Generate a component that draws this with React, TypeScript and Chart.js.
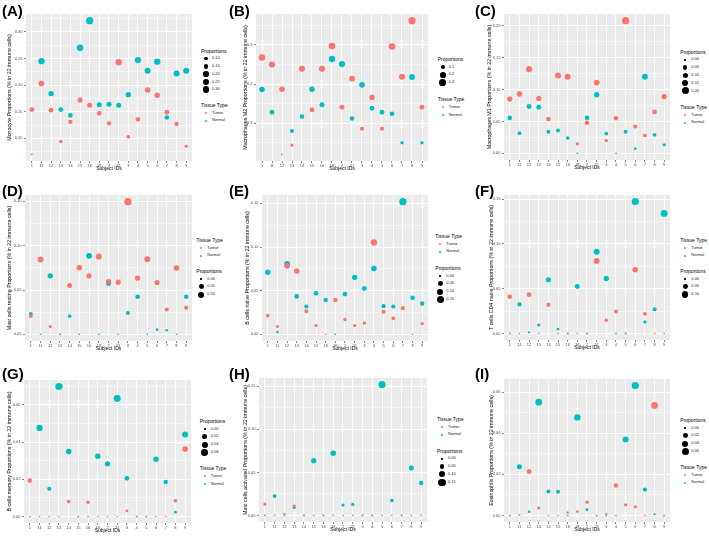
import React, { useEffect, useRef } from 'react';
import { Chart, registerables } from 'chart.js';

Chart.register(...registerables);

const FONT = "'Liberation Sans', Arial, Helvetica, sans-serif";
const TUMOR_COLOR = '#F8766D';
const NORMAL_COLOR = '#00BFC4';

// ---------- data ----------
const subjects = ['1', '11', '12', '13', '14', '15', '16', '18', '2', '21', '3', '4', '5', '6', '7', '8', '9'];

const monocyteTumor = [0.154, 0.203, 0.153, 0.094, 0.131, 0.172, 0.162, 0.147, 0.128, 0.243, 0.103, 0.136, 0.191, 0.181, 0.149, 0.127, 0.085];
const monocyteNormal = [0.070, 0.245, 0.184, 0.154, 0.143, 0.270, 0.321, 0.163, 0.164, 0.162, 0.182, 0.247, 0.227, 0.244, 0.139, 0.222, 0.227];

const m2Tumor = [0.268, 0.250, 0.187, 0.044, 0.239, 0.134, 0.239, 0.297, 0.141, 0.214, 0.086, 0.166, 0.086, 0.296, 0.219, 0.362, 0.141];
const m2Normal = [0.186, 0.128, 0.0205, 0.080, 0.117, 0.187, 0.147, 0.264, 0.251, 0.112, 0.198, 0.138, 0.128, 0.124, 0.050, 0.218, 0.050];

const m1Tumor = [0.085, 0.093, 0.132, 0.086, 0.054, 0.122, 0.120, 0.015, 0.048, 0.111, 0.020, 0.055, 0.208, 0.042, 0.028, 0.065, 0.089];
const m1Normal = [0.0556, 0.0315, 0.0735, 0.0724, 0.034, 0.036, 0.024, 0.0, 0.0556, 0.092, 0.031, 0.0, 0.034, 0.0073, 0.120, 0.029, 0.0136];

const mastRestingTumor = [0.0206, 0.0844, 0.0088, 0.0, 0.055, 0.075, 0.066, 0.0878, 0.0595, 0.0588, 0.1496, 0.0634, 0.0847, 0.0584, 0.028, 0.0748, 0.030];
const mastRestingNormal = [0.0229, 0.0, 0.066, 0.0, 0.0206, 0.0, 0.0885, 0.0, 0.0576, 0.0, 0.024, 0.0424, 0.0, 0.0053, 0.0046, 0.0, 0.0424];

const bNaiveTumor = [0.0214, 0.0089, 0.0785, 0.0727, 0.0264, 0.0101, 0.0, 0.0393, 0.0171, 0.0101, 0.0128, 0.1053, 0.026, 0.0183, 0.030, 0.0, 0.0124];
const bNaiveNormal = [0.0711, 0.0027, 0.0808, 0.0435, 0.0319, 0.047, 0.0393, 0.0, 0.0462, 0.0653, 0.0525, 0.0754, 0.0323, 0.0319, 0.152, 0.042, 0.0354];

const cd4NaiveTumor = [0.041, 0.0, 0.0433, 0.0, 0.032, 0.0, 0.0, 0.0, 0.0, 0.081, 0.0147, 0.0245, 0.0, 0.0712, 0.0219, 0.0, 0.0];
const cd4NaiveNormal = [0.0, 0.0324, 0.0011, 0.0094, 0.060, 0.0049, 0.0, 0.0524, 0.0, 0.0912, 0.0614, 0.0, 0.0, 0.1474, 0.0128, 0.0271, 0.1342];

const bMemoryTumor = [0.0193, 0.0, 0.0, 0.0, 0.008, 0.0, 0.0076, 0.0, 0.0, 0.0, 0.003, 0.0, 0.0, 0.0, 0.0, 0.0085, 0.0363];
const bMemoryNormal = [0.0, 0.0476, 0.0149, 0.0699, 0.0349, 0.0, 0.0, 0.0324, 0.0283, 0.0634, 0.0205, 0.0, 0.0, 0.0308, 0.0186, 0.0023, 0.0441];

const mastActivatedTumor = [0.0132, 0.0, 0.0019, 0.0112, 0.0, 0.0, 0.0, 0.0, 0.0, 0.0, 0.0, 0.0, 0.0, 0.0, 0.0, 0.0, 0.0];
const mastActivatedNormal = [0.0, 0.0225, 0.0, 0.0093, 0.0, 0.0636, 0.0, 0.0721, 0.012, 0.0128, 0.0, 0.0, 0.152, 0.0174, 0.0, 0.055, 0.0376];

const eosinophilTumor = [0.0, 0.0002, 0.0214, 0.0037, 0.0, 0.0, 0.0015, 0.0019, 0.0065, 0.0, 0.0008, 0.0146, 0.0052, 0.0042, 0.0, 0.0535, 0.0];
const eosinophilNormal = [0.0, 0.0237, 0.0018, 0.0551, 0.0117, 0.0115, 0.0, 0.0477, 0.0028, 0.0, 0.0, 0.0, 0.037, 0.0632, 0.0126, 0.0006, 0.0];

// tick values / labels
const ticksA = [0.10, 0.15, 0.20, 0.25, 0.30];
const ticksALabels = ['0.10', '0.15', '0.20', '0.25', '0.30'];
const ticksB = [0.1, 0.2, 0.3];
const ticksBLabels = ['0.1', '0.2', '0.3'];
const ticksC = [0, 0.05, 0.10, 0.15, 0.20];
const ticksCLabels = ['0.00', '0.05', '0.10', '0.15', '0.20'];
const ticks015 = [0, 0.05, 0.10, 0.15];
const ticks015Labels = ['0.00', '0.05', '0.10', '0.15'];
const ticks006 = [0, 0.02, 0.04, 0.06];
const ticks006Labels = ['0.00', '0.02', '0.04', '0.06'];
const ticks010 = [0, 0.05, 0.10];
const ticks010Labels = ['0.00', '0.05', '0.10'];

// ---------- layout ----------
type Geo = {
  colLeft: number; gL: number; gT: number; gR: number; gB: number; titleX: number;
  legX: number; sizeY: number; typeY: number; labelX: number; labelY: number;
};

type PanelCfg = {
  letter: string;
  yTitle: string;
  tumor: number[];
  normal: number[];
  yTicks: number[];
  yTickLabels: string[];
  sizeBreaks: number[];
  sizeLabels: string[];
  geo: Geo;
};

const panels: PanelCfg[] = [
  {
    letter: '(A)', yTitle: 'Monocyte Proportions (% in 22 immune cells)',
    tumor: monocyteTumor, normal: monocyteNormal,
    yTicks: ticksA, yTickLabels: ticksALabels, sizeBreaks: ticksA, sizeLabels: ticksALabels,
    geo: { colLeft: 0, gL: 26, gT: 14, gR: 194, gB: 161, titleX: 10, legX: 201, sizeY: 50.5, typeY: 105, labelX: 2, labelY: 2 },
  },
  {
    letter: '(B)', yTitle: 'Macrophages M2 Proportions (% in 22 immune cells)',
    tumor: m2Tumor, normal: m2Normal,
    yTicks: ticksB, yTickLabels: ticksBLabels, sizeBreaks: ticksB, sizeLabels: ticksBLabels,
    geo: { colLeft: 236, gL: 256, gT: 14, gR: 430, gB: 161, titleX: 245.5, legX: 437.7, sizeY: 59, typeY: 99.3, labelX: 229, labelY: 2 },
  },
  {
    letter: '(C)', yTitle: 'Macrophages M1 Proportions (% in 22 immune cells)',
    tumor: m1Tumor, normal: m1Normal,
    yTicks: ticksC, yTickLabels: ticksCLabels, sizeBreaks: ticksC, sizeLabels: ticksCLabels,
    geo: { colLeft: 472, gL: 504, gT: 14, gR: 672, gB: 160, titleX: 490, legX: 680.3, sizeY: 51.7, typeY: 107, labelX: 475, labelY: 2 },
  },
  {
    letter: '(D)', yTitle: 'Mast cells resting Proportions (% in 22 immune cells)',
    tumor: mastRestingTumor, normal: mastRestingNormal,
    yTicks: ticks015, yTickLabels: ticks015Labels, sizeBreaks: ticks010, sizeLabels: ticks010Labels,
    geo: { colLeft: 0, gL: 25, gT: 195, gR: 194, gB: 341, titleX: 10, legX: 196.3, sizeY: 271, typeY: 240, labelX: 2, labelY: 182 },
  },
  {
    letter: '(E)', yTitle: 'B cells naive Proportions (% in 22 immune cells)',
    tumor: bNaiveTumor, normal: bNaiveNormal,
    yTicks: ticks015, yTickLabels: ticks015Labels, sizeBreaks: ticks015, sizeLabels: ticks015Labels,
    geo: { colLeft: 236, gL: 262, gT: 195, gR: 430, gB: 341, titleX: 248, legX: 435.3, sizeY: 268, typeY: 236, labelX: 229, labelY: 182 },
  },
  {
    letter: '(F)', yTitle: 'T cells CD4 naive Proportions (% in 22 immune cells)',
    tumor: cd4NaiveTumor, normal: cd4NaiveNormal,
    yTicks: ticks015, yTickLabels: ticks015Labels, sizeBreaks: ticks010, sizeLabels: ticks010Labels,
    geo: { colLeft: 472, gL: 504, gT: 195, gR: 672, gB: 340, titleX: 492, legX: 680.3, sizeY: 271, typeY: 240, labelX: 475, labelY: 182 },
  },
  {
    letter: '(G)', yTitle: 'B cells memory Proportions (% in 22 immune cells)',
    tumor: bMemoryTumor, normal: bMemoryNormal,
    yTicks: ticks006, yTickLabels: ticks006Labels, sizeBreaks: ticks006, sizeLabels: ticks006Labels,
    geo: { colLeft: 0, gL: 24, gT: 380, gR: 193, gB: 523, titleX: 10, legX: 199.7, sizeY: 421, typeY: 468.3, labelX: 2, labelY: 365 },
  },
  {
    letter: '(H)', yTitle: 'Mast cells activated Proportions (% in 22 immune cells)',
    tumor: mastActivatedTumor, normal: mastActivatedNormal,
    yTicks: ticks015, yTickLabels: ticks015Labels, sizeBreaks: ticks015, sizeLabels: ticks015Labels,
    geo: { colLeft: 236, gL: 259, gT: 378, gR: 429, gB: 522, titleX: 246, legX: 437, sizeY: 450.7, typeY: 419, labelX: 229, labelY: 365 },
  },
  {
    letter: '(I)', yTitle: 'Eosinophils Proportions (% in 22 immune cells)',
    tumor: eosinophilTumor, normal: eosinophilNormal,
    yTicks: ticks006, yTickLabels: ticks006Labels, sizeBreaks: ticks006, sizeLabels: ticks006Labels,
    geo: { colLeft: 472, gL: 504, gT: 379, gR: 672, gB: 522, titleX: 492, legX: 680.3, sizeY: 420, typeY: 467, labelX: 475, labelY: 365 },
  },
];

// ---------- helpers ----------
const R_MIN = 0.85;
const R_SPAN = 2.75;

function dataRange(p: PanelCfg) {
  const all = [...p.tumor, ...p.normal];
  return { lo: Math.min(...all), hi: Math.max(...all) };
}

function radiusFor(v: number, lo: number, hi: number) {
  const t = hi > lo ? Math.min(1, Math.max(0, (v - lo) / (hi - lo))) : 0;
  return R_MIN + R_SPAN * Math.sqrt(t);
}

const bgPlugin = {
  id: 'ggBackground',
  beforeDraw(chart: any) {
    const { ctx, chartArea: a } = chart;
    ctx.save();
    ctx.fillStyle = '#EBEBEB';
    ctx.fillRect(a.left, a.top, a.right - a.left, a.bottom - a.top);
    ctx.restore();
  },
};

const PAD_TOP = 5;
const PAD_RIGHT = 2;
const X_AXIS_H = 14;
const X_TITLE_SIZE = 5;
const Y_TITLE_SIZE = 5.3;
const TICK_SIZE = 4;

function PanelChart({ p }: { p: PanelCfg }) {
  const ref = useRef<HTMLCanvasElement>(null);
  const g = p.geo;
  const cw = g.gR + PAD_RIGHT - g.colLeft;
  const ch = g.gB + X_AXIS_H - (g.gT - PAD_TOP);

  useEffect(() => {
    if (!ref.current) return;
    const { lo, hi } = dataRange(p);
    const span = hi - lo;
    const yMin = lo - 0.05 * span;
    const yMax = hi + 0.05 * span;
    const step = p.yTicks[1] - p.yTicks[0];
    const minors: number[] = [];
    for (let i = 0; i < p.yTicks.length; i++) minors.push(p.yTicks[i] - step / 2);
    minors.push(p.yTicks[p.yTicks.length - 1] + step / 2);
    const allTicks = [...p.yTicks, ...minors].filter((v) => v >= yMin && v <= yMax).sort((a, b) => a - b);
    const majorIdx = (v: number) => p.yTicks.findIndex((t) => Math.abs(t - v) < 1e-9);

    const mk = (vals: number[]) =>
      vals.map((v, i) => ({ x: i + 1, y: v, r: radiusFor(v, lo, hi) }));

    const chart = new Chart(ref.current, {
      type: 'bubble',
      data: {
        datasets: [
          { label: 'Tumor', data: mk(p.tumor), backgroundColor: TUMOR_COLOR, borderWidth: 0, borderColor: 'rgba(0,0,0,0)', hoverBorderWidth: 0 } as any,
          { label: 'Normal', data: mk(p.normal), backgroundColor: NORMAL_COLOR, borderWidth: 0, borderColor: 'rgba(0,0,0,0)', hoverBorderWidth: 0 } as any,
        ],
      },
      options: {
        animation: false,
        responsive: false,
        maintainAspectRatio: false,
        events: [],
        layout: { padding: { top: PAD_TOP, right: PAD_RIGHT, left: 0, bottom: 0 } },
        plugins: { legend: { display: false }, tooltip: { enabled: false } },
        scales: {
          x: {
            type: 'linear',
            min: 0.4,
            max: subjects.length + 0.6,
            afterBuildTicks: (s: any) => {
              s.ticks = subjects.map((_, i) => ({ value: i + 1 }));
            },
            ticks: {
              autoSkip: false,
              maxRotation: 0,
              minRotation: 0,
              padding: 0.5,
              color: '#4D4D4D',
              font: { size: TICK_SIZE, family: FONT },
              callback: (v: any) => subjects[Math.round(Number(v)) - 1] ?? '',
            },
            grid: { color: '#FFFFFF', lineWidth: 1, tickLength: 2, tickColor: '#333333', tickWidth: 0.6 },
            border: { display: false },
            title: {
              display: true,
              text: 'Subject IDs',
              color: '#000000',
              font: { size: X_TITLE_SIZE, family: FONT },
              padding: { top: 0, bottom: X_AXIS_H - 8 - 0.6 * X_TITLE_SIZE },
            },
            afterFit: (s: any) => {
              s.height = X_AXIS_H;
            },
          },
          y: {
            type: 'linear',
            min: yMin,
            max: yMax,
            afterBuildTicks: (s: any) => {
              s.ticks = allTicks.map((v) => ({ value: v }));
            },
            ticks: {
              autoSkip: false,
              padding: 1.5,
              color: '#4D4D4D',
              font: { size: TICK_SIZE, family: FONT },
              callback: (v: any) => {
                const k = majorIdx(Number(v));
                return k >= 0 ? p.yTickLabels[k] : '';
              },
            },
            grid: {
              color: '#FFFFFF',
              lineWidth: (c: any) => (c.tick && majorIdx(c.tick.value) >= 0 ? 1 : 0.5),
              tickLength: 2,
              tickColor: (c: any) => (c.tick && majorIdx(c.tick.value) >= 0 ? '#333333' : 'rgba(0,0,0,0)'),
              tickWidth: 0.6,
            },
            border: { display: false },
            title: {
              display: true,
              text: p.yTitle,
              color: '#000000',
              font: { size: Y_TITLE_SIZE, family: FONT },
              padding: { top: g.titleX - g.colLeft - 0.6 * Y_TITLE_SIZE, bottom: 0 },
            },
            afterFit: (s: any) => {
              s.width = g.gL - g.colLeft;
            },
          },
        },
      } as any,
      plugins: [bgPlugin],
    });
    return () => chart.destroy();
  }, [p]);

  return (
    <canvas
      ref={ref}
      width={cw}
      height={ch}
      style={{ position: 'absolute', left: g.colLeft, top: g.gT - PAD_TOP, width: cw, height: ch }}
    />
  );
}

function LegendText({ x, y, text, size, color }: { x: number; y: number; text: string; size: number; color: string }) {
  return (
    <div
      style={{
        position: 'absolute', left: x, top: y - size * 0.6, fontSize: size, lineHeight: `${size * 1.2}px`,
        color, whiteSpace: 'nowrap', fontFamily: FONT,
      }}
    >
      {text}
    </div>
  );
}

function Dot({ cx, cy, r, color }: { cx: number; cy: number; r: number; color: string }) {
  return (
    <div
      style={{
        position: 'absolute', left: cx - r, top: cy - r, width: 2 * r, height: 2 * r,
        borderRadius: '50%', background: color,
      }}
    />
  );
}

function PanelLegend({ p }: { p: PanelCfg }) {
  const g = p.geo;
  const { lo, hi } = dataRange(p);
  const items: React.ReactNode[] = [];
  const keyX = g.legX + 5;
  const labX = g.legX + 11;
  items.push(<LegendText key="st" x={g.legX} y={g.sizeY} text="Proportions" size={5} color="#000" />);
  p.sizeBreaks.forEach((b, i) => {
    const y = g.sizeY + 8 + i * 7.8;
    items.push(<Dot key={`sd${i}`} cx={keyX} cy={y} r={radiusFor(b, lo, hi)} color="#000" />);
    items.push(<LegendText key={`sl${i}`} x={labX} y={y} text={p.sizeLabels[i]} size={4} color="#222" />);
  });
  items.push(<LegendText key="tt" x={g.legX} y={g.typeY} text="Tissue Type" size={5} color="#000" />);
  [['Tumor', TUMOR_COLOR], ['Normal', NORMAL_COLOR]].forEach(([name, col], i) => {
    const y = g.typeY + 8 + i * 7.8;
    items.push(<Dot key={`td${i}`} cx={keyX} cy={y} r={1.1} color={col} />);
    items.push(<LegendText key={`tl${i}`} x={labX} y={y} text={name} size={4} color="#222" />);
  });
  return <>{items}</>;
}

function PanelLabel({ p }: { p: PanelCfg }) {
  return (
    <div
      style={{
        position: 'absolute', left: p.geo.labelX, top: p.geo.labelY, fontSize: 15, lineHeight: '17px',
        fontWeight: 'bold', fontFamily: FONT, color: '#000',
      }}
    >
      {p.letter}
    </div>
  );
}

export default function App() {
  return (
    <div
      style={{
        position: 'fixed', left: 0, top: 0, width: 709, height: 540, background: '#FFFFFF',
        overflow: 'hidden', fontFamily: FONT,
      }}
    >
      {panels.map((p) => (
        <React.Fragment key={p.letter}>
          <PanelChart p={p} />
          <PanelLegend p={p} />
          <PanelLabel p={p} />
        </React.Fragment>
      ))}
    </div>
  );
}
